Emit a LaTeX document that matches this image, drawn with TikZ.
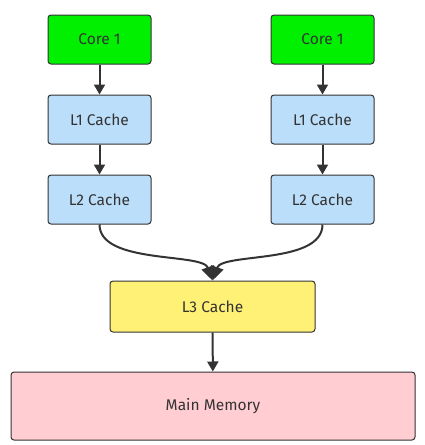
\documentclass[tikz,border=0pt]{standalone}
\usepackage{fontspec}
\setmainfont{Fira Sans}
\usetikzlibrary{arrows.meta}
\definecolor{cgreen}{HTML}{00F000}
\definecolor{cblue}{HTML}{BBDEFA}
\definecolor{cyellow}{HTML}{FFF176}
\definecolor{cpink}{HTML}{FFCDD2}
\definecolor{cline}{HTML}{333333}
\begin{document}
\begin{tikzpicture}[x=1pt,y=-1pt,
  box/.style={draw=cline,line width=1pt,rounded corners=3pt,minimum width=103pt,minimum height=49pt,inner sep=0pt,font=\fontsize{15.5}{18}\selectfont,text=cline},
  conn/.style={draw=cline,line width=2pt,-{Triangle[width=11pt,length=10pt]}}]
\useasboundingbox (0,0) rectangle (425,445);
\node[box,fill=cgreen] (c1) at (99.5,39.5) {Core 1};
\node[box,fill=cgreen] (c2) at (322.5,39.5) {Core 1};
\node[box,fill=cblue] (a1) at (99.5,119.5) {L1 Cache};
\node[box,fill=cblue] (a2) at (322.5,119.5) {L1 Cache};
\node[box,fill=cblue] (b1) at (99.5,199.5) {L2 Cache};
\node[box,fill=cblue] (b2) at (322.5,199.5) {L2 Cache};
\node[box,fill=cyellow,minimum width=205pt,minimum height=51pt] (l3) at (212.5,306.5) {L3 Cache};
\node[box,fill=cpink,minimum width=404pt,minimum height=68pt] (mm) at (213,406) {Main Memory};
\draw[conn] (c1) -- (a1);
\draw[conn] (c2) -- (a2);
\draw[conn] (a1) -- (b1);
\draw[conn] (a2) -- (b2);
\draw[conn,-{Triangle[width=13pt,length=14pt]}] (b1.south) .. controls +(0,40) and +(-10,-28) .. (l3.north);
\draw[conn,-{Triangle[width=13pt,length=14pt]}] (b2.south) .. controls +(0,40) and +(10,-28) .. (l3.north);
\draw[conn] (l3) -- (mm);
\end{tikzpicture}
\end{document}
